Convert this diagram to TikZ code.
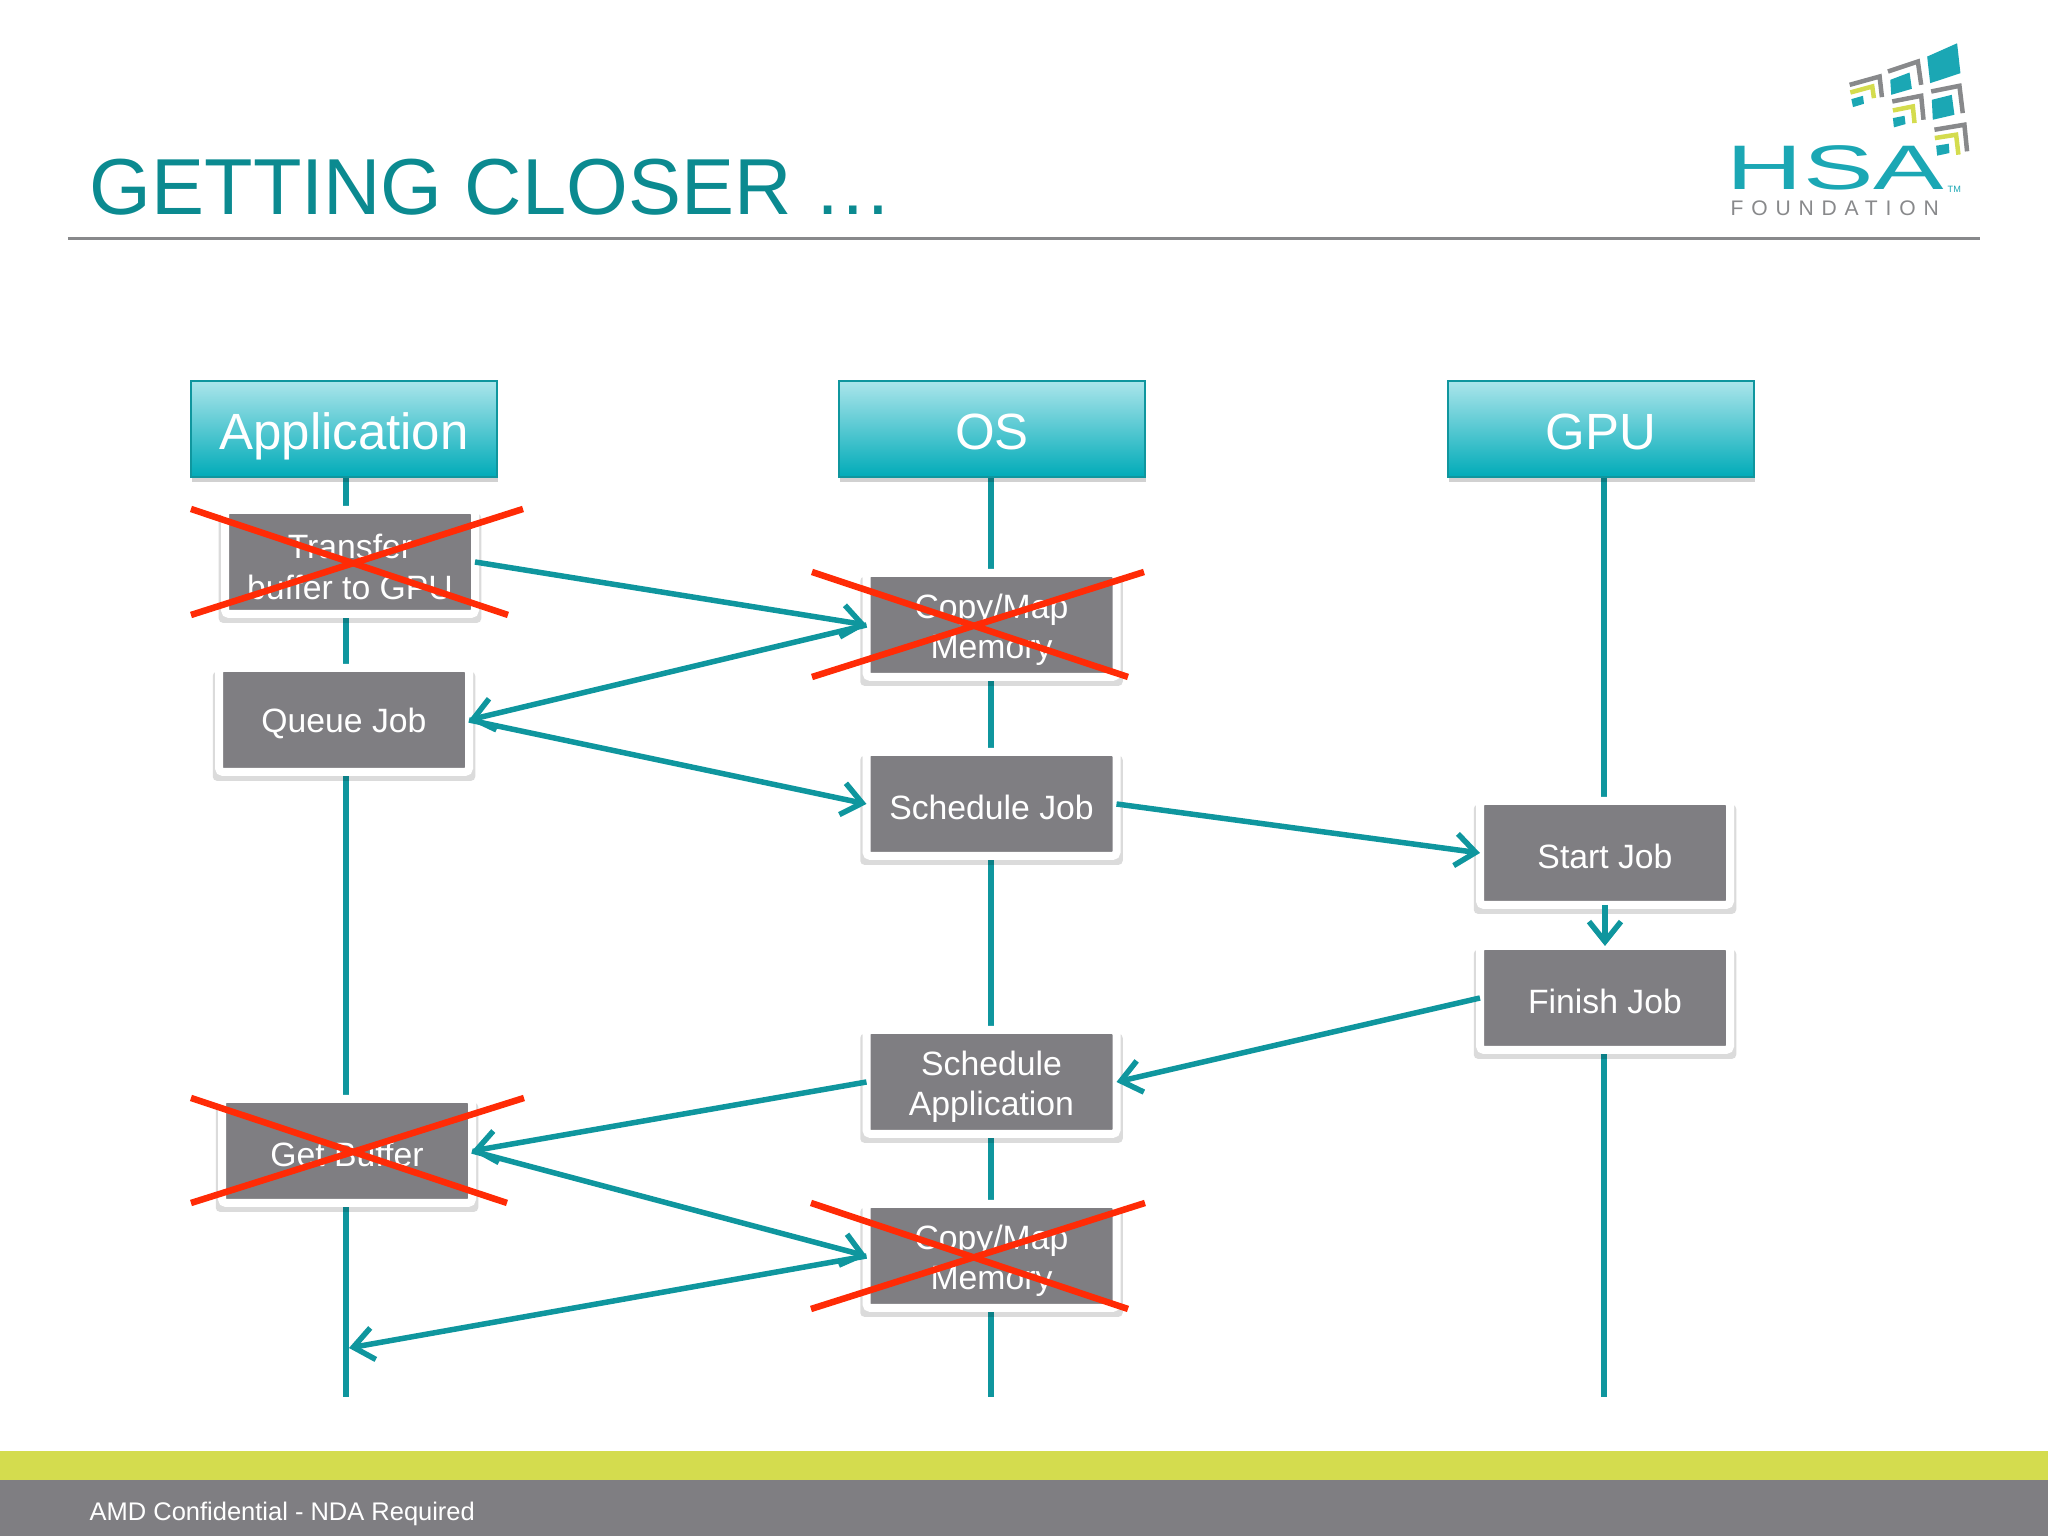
\documentclass[tikz,border=0pt]{standalone}
\usepackage{fontspec}
\setmainfont{Liberation Sans}
\newfontfamily\logofont[LetterSpace=37]{Liberation Sans}
\usetikzlibrary{arrows.meta,shadows,backgrounds}
\definecolor{tealline}{HTML}{0F969E}
\definecolor{tealtitle}{HTML}{0B8A90}
\definecolor{teallogo}{HTML}{1BA7B4}
\definecolor{headtop}{HTML}{ABE5EB}
\definecolor{headbottom}{HTML}{00ABB8}
\definecolor{boxgray}{HTML}{7F7E82}
\definecolor{logogray}{HTML}{88898B}
\definecolor{limeband}{HTML}{D4DC4E}
\definecolor{crossred}{HTML}{FF2B06}
\newcommand{\linestrut}{\rule{0pt}{0.34cm}}

\begin{document}
\begin{tikzpicture}
        \useasboundingbox (0,0) rectangle (20.48,15.36);
        \tikzstyle{head}=[rectangle, draw=tealline, line width=0.25mm, top color=headtop, bottom color=headbottom, outer sep=0pt, minimum width=3.06cm, minimum height=0.96cm, text height=0.50cm, text depth=0.08cm, text=white, font=\fontsize{14.5}{17}\selectfont, drop shadow={shadow xshift=0.01cm, shadow yshift=-0.05cm, opacity=0.18, fill=black}]
        \tikzstyle{card}=[rectangle, fill=boxgray, draw=white, line width=0.8mm, rounded corners=0.4mm, outer sep=0pt, inner sep=0pt, minimum width=2.5cm, minimum height=1.04cm, align=center, text=white, font=\fontsize{9.6}{11.5}\selectfont, execute at begin node={\rule{0pt}{0.32cm}}, drop shadow={shadow xshift=0cm, shadow yshift=-0.06cm, shadow scale=1.05, opacity=0.14, fill=black}]
        \tikzstyle{life}=[tealline, line width=0.55mm]
        \tikzstyle{edge}=[tealline, line width=0.55mm, -{Straight Barb[length=2mm, width=3.2mm]}]
        \tikzstyle{cross}=[crossred, line width=0.65mm]

        % slide furniture
        \fill[limeband] (0,0.56) rectangle (20.48,0.85);
        \fill[boxgray] (0,0) rectangle (20.48,0.56);
        \coordinate (ruleL) at (0.68,12.97);
        \coordinate (ruleR) at (19.80,12.97);
        \draw[logogray, line width=0.3mm] (ruleL) -- (ruleR);
        \node[anchor=base west, inner sep=0pt, text=tealtitle, font=\fontsize{22.6}{26}\selectfont] (title) at (0.89,13.21) {GETTING CLOSER …};
        \node[anchor=base west, inner sep=0pt, text=white, font=\fontsize{7.25}{9}\selectfont] (footer) at (0.89,0.15) {AMD Confidential - NDA Required};

        % logo
        \begin{scope}[shift={(17,15.16)}, x=0.003333cm, y=-0.003333cm]
            \fill[teallogo] (683,110) -- (773,70) -- (783,160) -- (692,190) -- cycle;
            \fill[teallogo] (572,180) -- (630,158) -- (637,207) -- (575,225) -- cycle;
            \fill[teallogo] (697,240) -- (757,225) -- (765,285) -- (700,300) -- cycle;
            \fill[teallogo] (455,238) -- (490,228) -- (493,252) -- (460,262) -- cycle;
            \fill[teallogo] (580,295) -- (615,288) -- (618,313) -- (583,323) -- cycle;
            \fill[teallogo] (710,378) -- (748,372) -- (750,400) -- (713,408) -- cycle;
            \draw[logogray, line width=0.45mm] (565,155) -- (655,125) -- (665,195);
            \draw[logogray, line width=0.45mm] (450,195) -- (540,170) -- (547,232);
            \draw[logogray, line width=0.45mm] (578,245) -- (665,228) -- (672,300);
            \draw[logogray, line width=0.45mm] (695,215) -- (780,198) -- (790,280);
            \draw[logogray, line width=0.45mm] (705,330) -- (795,315) -- (803,395);
            \draw[limeband, line width=0.45mm] (452,218) -- (518,200) -- (523,235);
            \draw[limeband, line width=0.45mm] (580,272) -- (640,260) -- (645,310);
            \draw[limeband, line width=0.45mm] (706,355) -- (770,345) -- (777,405);
        \end{scope}
        \node[anchor=base west, inner sep=0pt, text=teallogo, font=\fontsize{17.9}{20}\selectfont] (hsa) at (17.26,13.46) {\scalebox{1.68}[1]{HSA}};
        \node[anchor=base west, inner sep=0pt, text=logogray, font=\fontsize{6}{7}\logofont] (foundation) at (17.30,13.20) {FOUNDATION};
        \node[anchor=base west, inner sep=0pt, text=teallogo, font=\fontsize{2.6}{3}\selectfont] (tm) at (19.47,13.43) {TM};

        % columns
        \node[head] (appHead) at (3.44,11.07) {Application};
        \node[head] (osHead)  at (9.92,11.07) {OS};
        \node[head] (gpuHead) at (16.01,11.07) {GPU};

        \coordinate (appEnd) at (3.46,1.39);
        \coordinate (osEnd)  at (9.91,1.39);
        \coordinate (gpuEnd) at (16.04,1.39);
        \coordinate (appHit) at (3.49,1.88);

        \node[card] (transfer) at (3.50,9.74)  {\linestrut Transfer\\buffer to GPU};
        \node[card] (queue)    at (3.44,8.16)  {Queue Job};
        \node[card] (getbuf)   at (3.47,3.85)  {Get Buffer};

        \node[card] (copyA)    at (9.915,9.11) {\linestrut Copy/Map\\Memory};
        \node[card] (schedJob) at (9.915,7.32) {Schedule Job};
        \node[card] (schedApp) at (9.915,4.54) {\linestrut Schedule\\Application};
        \node[card] (copyB)    at (9.915,2.80) {\linestrut Copy/Map\\Memory};

        \node[card] (start)    at (16.05,6.83) {Start Job};
        \node[card] (finish)   at (16.05,5.38) {Finish Job};

        % lifelines go behind the cards
        \begin{scope}[on background layer]
            \foreach \a/\b in {appHead/transfer, transfer/queue, queue/getbuf, getbuf/appEnd}
                \draw[life] (\a -| appEnd) -- (\b -| appEnd);
            \foreach \a/\b in {osHead/copyA, copyA/schedJob, schedJob/schedApp, schedApp/copyB, copyB/osEnd}
                \draw[life] (\a -| osEnd) -- (\b -| osEnd);
            \foreach \a/\b in {gpuHead/start, finish/gpuEnd}
                \draw[life] (\a -| gpuEnd) -- (\b -| gpuEnd);
        \end{scope}

        \draw[edge] (transfer.east) -- (copyA.west);
        \draw[edge] (copyA.west) -- (queue.east);
        \draw[edge] (queue.east) -- (schedJob.west);
        \draw[edge] (schedJob.east) -- (start.west);
        \draw[edge] (start.south) -- (finish.north);
        \draw[edge] (finish.west) -- (schedApp.east);
        \draw[edge] (schedApp.west) -- (getbuf.east);
        \draw[edge] (getbuf.east) -- (copyB.west);
        \draw[edge] (copyB.west) -- (appHit);

        % crossed out steps
        \draw[cross] (1.91,10.27) -- (5.08,9.21);
        \draw[cross] (1.91,9.21) -- (5.23,10.27);
        \draw[cross] (8.12,9.64) -- (11.28,8.59);
        \draw[cross] (8.12,8.59) -- (11.44,9.64);
        \draw[cross] (1.91,4.38) -- (5.07,3.33);
        \draw[cross] (1.91,3.33) -- (5.24,4.38);
        \draw[cross] (8.11,3.33) -- (11.28,2.27);
        \draw[cross] (8.11,2.27) -- (11.45,3.33);
\end{tikzpicture}
\end{document}
